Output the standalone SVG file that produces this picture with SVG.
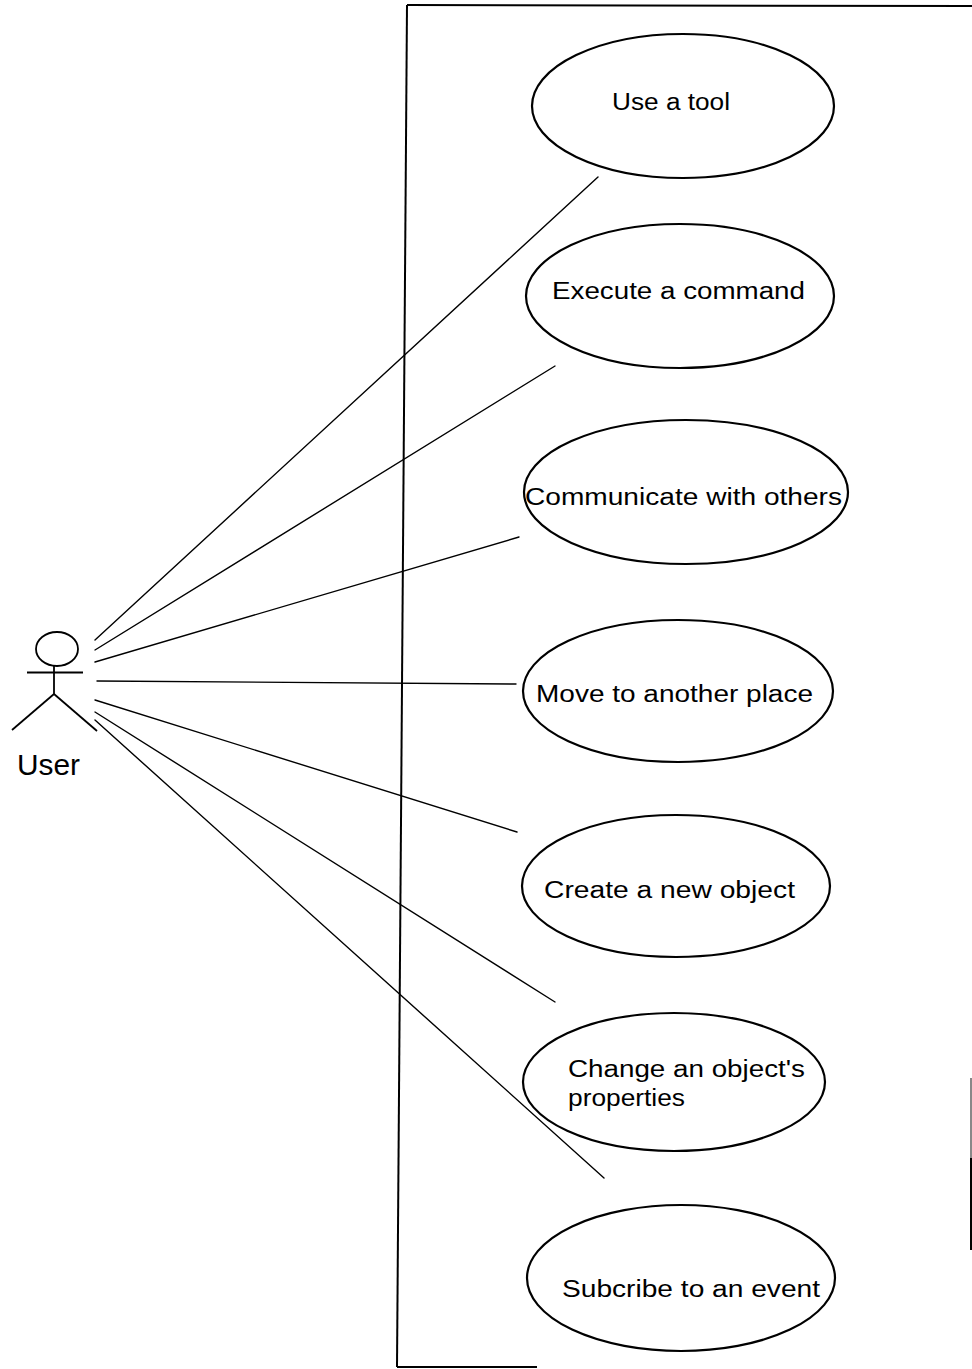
<svg xmlns="http://www.w3.org/2000/svg" width="972" height="1369" viewBox="0 0 972 1369">
  <style>
    .edge { stroke: #000; stroke-width: 1.4; fill: none; stroke-linecap: round; }
    .uc { fill: #fff; stroke: #000; stroke-width: 2.2; }
    .lbl { font-family: "Liberation Sans", Arial, sans-serif; font-size: 23px; fill: #000; }
    .actor { stroke: #000; stroke-width: 1.8; fill: none; }
    .frame { stroke: #000; stroke-width: 2; fill: none; }
  </style>
  <rect width="972" height="1369" fill="#fff"/>

  <!-- system boundary -->
  <g id="system-boundary">
    <path class="frame" d="M 407 5 L 397 1367"/>
    <path class="frame" d="M 407 5 L 972 6"/>
    <path class="frame" d="M 397 1367 L 537 1367"/>
    <path d="M 971 1078 L 971 1158" stroke="#888" stroke-width="2"/>
    <path d="M 971 1158 L 971 1250" stroke="#000" stroke-width="2"/>
  </g>

  <!-- associations -->
  <g id="connectors">
    <line class="edge" x1="95" y1="640" x2="598" y2="177"/>
    <line class="edge" x1="95" y1="650" x2="555" y2="366"/>
    <line class="edge" x1="95" y1="662" x2="519" y2="537"/>
    <line class="edge" x1="97" y1="681" x2="516" y2="684"/>
    <line class="edge" x1="95" y1="700" x2="517" y2="832"/>
    <line class="edge" x1="95" y1="712" x2="555" y2="1002"/>
    <line class="edge" x1="95" y1="720" x2="604" y2="1178"/>
  </g>

  <!-- actor -->
  <g id="user">
    <ellipse class="actor" cx="57" cy="649" rx="21" ry="17"/>
    <line class="actor" x1="27" y1="672.5" x2="83" y2="672.5"/>
    <line class="actor" x1="54" y1="666" x2="54" y2="694"/>
    <line class="actor" x1="54" y1="694" x2="12" y2="730"/>
    <line class="actor" x1="54" y1="694" x2="97" y2="731"/>
    <text x="17" y="775" font-family="Liberation Sans, Arial, sans-serif" font-size="29" textLength="63" lengthAdjust="spacingAndGlyphs">User</text>
  </g>

  <!-- use cases -->
  <g id="use-a-tool">
    <ellipse class="uc" cx="683" cy="106" rx="151" ry="72"/>
    <text class="lbl" x="612" y="110" textLength="118" lengthAdjust="spacingAndGlyphs">Use a tool</text>
  </g>
  <g id="execute-a-command">
    <ellipse class="uc" cx="680" cy="296" rx="154" ry="72"/>
    <text class="lbl" x="552" y="299" textLength="253" lengthAdjust="spacingAndGlyphs">Execute a command</text>
  </g>
  <g id="communicate-with-others">
    <ellipse class="uc" cx="686" cy="492" rx="162" ry="72"/>
    <text class="lbl" x="525" y="505" textLength="317" lengthAdjust="spacingAndGlyphs">Communicate with others</text>
  </g>
  <g id="move-to-another-place">
    <ellipse class="uc" cx="678" cy="691" rx="155" ry="71"/>
    <text class="lbl" x="536" y="702" textLength="277" lengthAdjust="spacingAndGlyphs">Move to another place</text>
  </g>
  <g id="create-a-new-object">
    <ellipse class="uc" cx="676" cy="886" rx="154" ry="71"/>
    <text class="lbl" x="544" y="898" textLength="251" lengthAdjust="spacingAndGlyphs">Create a new object</text>
  </g>
  <g id="change-properties">
    <ellipse class="uc" cx="674" cy="1082" rx="151" ry="69"/>
    <text class="lbl" x="568" y="1077" textLength="237" lengthAdjust="spacingAndGlyphs">Change an object's</text>
    <text class="lbl" x="568" y="1106" textLength="117" lengthAdjust="spacingAndGlyphs">properties</text>
  </g>
  <g id="subscribe-event">
    <ellipse class="uc" cx="681" cy="1278" rx="154" ry="73"/>
    <text class="lbl" x="562" y="1297" textLength="258" lengthAdjust="spacingAndGlyphs">Subcribe to an event</text>
  </g>
</svg>
